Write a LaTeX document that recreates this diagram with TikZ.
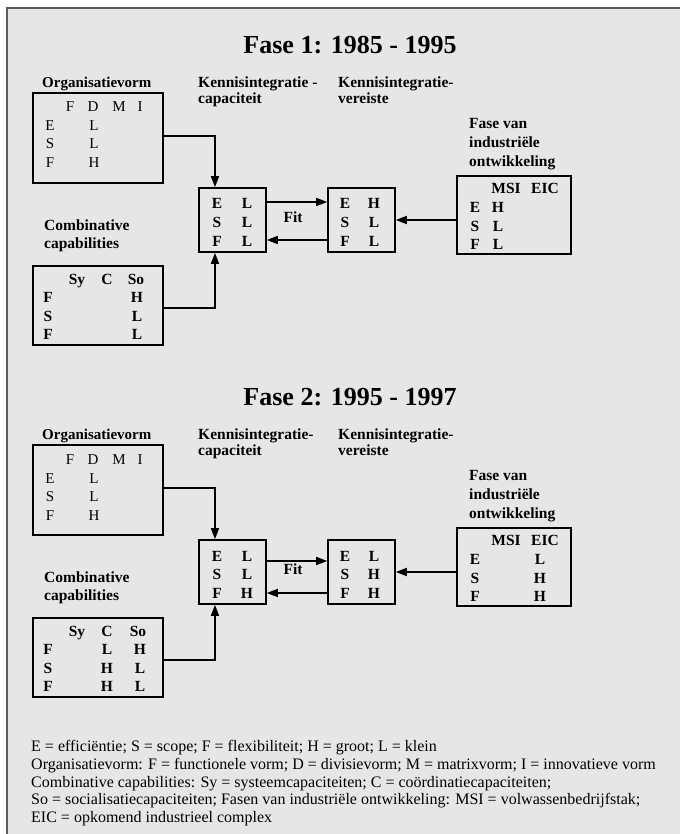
\documentclass[tikz,border=0pt]{standalone}
\usepackage{fontspec}
\setmainfont{Liberation Serif}
\usetikzlibrary{arrows.meta}

\definecolor{panel}{HTML}{E6E6E6}
\definecolor{framegray}{HTML}{5A5A5A}

\tikzset{
  box/.style={draw, line width=1.6pt, inner sep=0pt},
  cell/.style={inner sep=0pt, text height=10.3pt, text depth=0pt, font=\fontsize{15.5}{17}\selectfont\bfseries},
  plaincell/.style={inner sep=0pt, text height=10pt, text depth=0pt, font=\fontsize{15}{17}\selectfont},
  label/.style={inner sep=0pt, anchor=north west, align=left, font=\fontsize{15.5}{16}\selectfont\bfseries},
  title/.style={inner sep=0pt, text height=17pt, text depth=0pt, font=\fontsize{26}{30}\selectfont\bfseries},
  flow/.style={line width=1.6pt, -{Triangle[length=11pt,width=8pt]}},
}

\begin{document}
\begin{tikzpicture}[x=1pt, y=-1pt]
    \useasboundingbox (0,0) rectangle (680,834);
    \fill[panel] (7,8) rectangle (680,834);
    \draw[framegray, line width=2pt] (7,834) -- (7,8) -- (680,8);

    % Fase 1
    \node[title] (t1) at (350,45) {Fase 1: 1985 - 1995};

    \node[label, font=\fontsize{15}{16}\selectfont\bfseries] (lorg1) at (42,77) {Organisatievorm};
    \node[label] (lkic1) at (198,77) {Kennisintegratie -\\capaciteit};
    \node[label] (lkiv1) at (338,77) {Kennisintegratie-\\vereiste};
    \node[label, font=\fontsize{15.5}{19}\selectfont\bfseries] (lmsi1) at (469,118) {Fase van\\industriële\\ontwikkeling};
    \node[label, font=\fontsize{15.5}{18}\selectfont\bfseries] (lcomb1) at (44,220) {Combinative\\capabilities};

    \node[box, minimum width=130, minimum height=90] (org1) at (98,138) {};
    \node[box, minimum width=67, minimum height=64] (kic1) at (232.5,220) {};
    \node[box, minimum width=67, minimum height=64] (kiv1) at (361.5,220) {};
    \node[box, minimum width=114, minimum height=78] (msi1) at (514,215) {};
    \node[box, minimum width=130, minimum height=79] (comb1) at (98,305.5) {};

    \node[plaincell] (o1f) at (70,107) {F};
    \node[plaincell] (o1d) at (93,107) {D};
    \node[plaincell] (o1m) at (119,107) {M};
    \node[plaincell] (o1i) at (140,107) {I};
    \node[plaincell] (o1e) at (50,126) {E};
    \node[plaincell] (o1s) at (50,144) {S};
    \node[plaincell] (o1fl) at (50,163) {F};
    \node[plaincell] (o1a) at (94,126) {L};
    \node[plaincell] (o1b) at (94,144) {L};
    \node[plaincell] (o1c) at (94,163) {H};

    \node[cell] (k1e) at (217,203) {E};
    \node[cell] (k1s) at (217,222) {S};
    \node[cell] (k1f) at (217,241) {F};
    \node[cell] (k1a) at (247,203) {L};
    \node[cell] (k1b) at (247,222) {L};
    \node[cell] (k1c) at (247,241) {L};

    \node[cell] (v1e) at (345,203) {E};
    \node[cell] (v1s) at (345,222) {S};
    \node[cell] (v1f) at (345,241) {F};
    \node[cell] (v1a) at (374,203) {H};
    \node[cell] (v1b) at (374,222) {L};
    \node[cell] (v1c) at (374,241) {L};

    \node[cell] (fit1) at (293,217) {Fit};

    \node[cell] (m1msi) at (506,188) {MSI};
    \node[cell] (m1eic) at (545,188) {EIC};
    \node[cell] (m1e) at (475,207) {E};
    \node[cell] (m1s) at (475,226) {S};
    \node[cell] (m1f) at (475,244) {F};
    \node[cell] (m1a) at (498,207) {H};
    \node[cell] (m1b) at (498,226) {L};
    \node[cell] (m1c) at (498,244) {L};

    \node[cell] (c1sy) at (77,279) {Sy};
    \node[cell] (c1c) at (107,279) {C};
    \node[cell] (c1so) at (136,279) {So};
    \node[cell] (c1f) at (48,297) {F};
    \node[cell] (c1s) at (48,316) {S};
    \node[cell] (c1fl) at (48,334) {F};
    \node[cell] (c1a) at (137,297) {H};
    \node[cell] (c1b) at (137,316) {L};
    \node[cell] (c1d) at (137,334) {L};

    \draw[flow] ([yshift=2]org1.east) -| ([xshift=-17.5]kic1.north);
    \draw[flow] ([yshift=-2.5]comb1.east) -| ([xshift=-17.5]kic1.south);
    \draw[flow] ([yshift=18]kic1.east) -- ([yshift=18]kiv1.west);
    \draw[flow] ([yshift=-20]kiv1.west) -- ([yshift=-20]kic1.east);
    \draw[flow] (msi1.west |- kiv1.east) -- (kiv1.east);

    % Fase 2
    \begin{scope}[shift={(0,352)}]
    \node[title] (t2) at (350,45) {Fase 2: 1995 - 1997};

    \node[label, font=\fontsize{15}{16}\selectfont\bfseries] (lorg2) at (42,77) {Organisatievorm};
    \node[label] (lkic2) at (198,77) {Kennisintegratie-\\capaciteit};
    \node[label] (lkiv2) at (338,77) {Kennisintegratie-\\vereiste};
    \node[label, font=\fontsize{15.5}{19}\selectfont\bfseries] (lmsi2) at (469,118) {Fase van\\industriële\\ontwikkeling};
    \node[label, font=\fontsize{15.5}{18}\selectfont\bfseries] (lcomb2) at (44,220) {Combinative\\capabilities};

    \node[box, minimum width=130, minimum height=90] (org2) at (98,138) {};
    \node[box, minimum width=67, minimum height=64] (kic2) at (232.5,220) {};
    \node[box, minimum width=67, minimum height=64] (kiv2) at (361.5,220) {};
    \node[box, minimum width=114, minimum height=78] (msi2) at (514,215) {};
    \node[box, minimum width=130, minimum height=79] (comb2) at (98,305.5) {};

    \node[plaincell] (o2f) at (70,107) {F};
    \node[plaincell] (o2d) at (93,107) {D};
    \node[plaincell] (o2m) at (119,107) {M};
    \node[plaincell] (o2i) at (140,107) {I};
    \node[plaincell] (o2e) at (50,126) {E};
    \node[plaincell] (o2s) at (50,144) {S};
    \node[plaincell] (o2fl) at (50,163) {F};
    \node[plaincell] (o2a) at (94,126) {L};
    \node[plaincell] (o2b) at (94,144) {L};
    \node[plaincell] (o2c) at (94,163) {H};

    \node[cell] (k2e) at (217,204) {E};
    \node[cell] (k2s) at (217,222) {S};
    \node[cell] (k2f) at (217,241) {F};
    \node[cell] (k2a) at (247,204) {L};
    \node[cell] (k2b) at (247,222) {L};
    \node[cell] (k2c) at (247,241) {H};

    \node[cell] (v2e) at (345,204) {E};
    \node[cell] (v2s) at (345,222) {S};
    \node[cell] (v2f) at (345,241) {F};
    \node[cell] (v2a) at (374,204) {L};
    \node[cell] (v2b) at (374,222) {H};
    \node[cell] (v2c) at (374,241) {H};

    \node[cell] (fit2) at (293,217) {Fit};

    \node[cell] (m2msi) at (506,188) {MSI};
    \node[cell] (m2eic) at (545,188) {EIC};
    \node[cell] (m2e) at (475,207) {E};
    \node[cell] (m2s) at (475,226) {S};
    \node[cell] (m2f) at (475,244) {F};
    \node[cell] (m2a) at (540,207) {L};
    \node[cell] (m2b) at (540,226) {H};
    \node[cell] (m2c) at (540,244) {H};

    \node[cell] (c2sy) at (77,279) {Sy};
    \node[cell] (c2c) at (107,279) {C};
    \node[cell] (c2so) at (138,279) {So};
    \node[cell] (c2f) at (48,297) {F};
    \node[cell] (c2s) at (48,316) {S};
    \node[cell] (c2fl) at (48,334) {F};
    \node[cell] (c2a) at (107,297) {L};
    \node[cell] (c2b) at (107,316) {H};
    \node[cell] (c2d) at (107,334) {H};
    \node[cell] (c2g) at (140,297) {H};
    \node[cell] (c2h) at (140,316) {L};
    \node[cell] (c2k) at (140,334) {L};

    \draw[flow] ([yshift=2]org2.east) -| ([xshift=-17.5]kic2.north);
    \draw[flow] ([yshift=-2.5]comb2.east) -| ([xshift=-17.5]kic2.south);
    \draw[flow] ([yshift=11]kic2.east) -- ([yshift=11]kiv2.west);
    \draw[flow] ([yshift=-21]kiv2.west) -- ([yshift=-21]kic2.east);
    \draw[flow] (msi2.west |- kiv2.east) -- (kiv2.east);
    \end{scope}

    % legenda
    \node[inner sep=0pt, anchor=north west, align=left, font=\fontsize{16}{17.8}\selectfont] (legend) at (31,740)
      {E = efficiëntie; S = scope; F = flexibiliteit; H = groot; L = klein\\
       Organisatievorm: F = functionele vorm; D = divisievorm; M = matrixvorm; I = innovatieve vorm\\
       Combinative capabilities: Sy = systeemcapaciteiten; C = coördinatiecapaciteiten;\\
       So = socialisatiecapaciteiten; Fasen van industriële ontwikkeling: MSI = volwassenbedrijfstak;\\
       EIC = opkomend industrieel complex};
\end{tikzpicture}
\end{document}
